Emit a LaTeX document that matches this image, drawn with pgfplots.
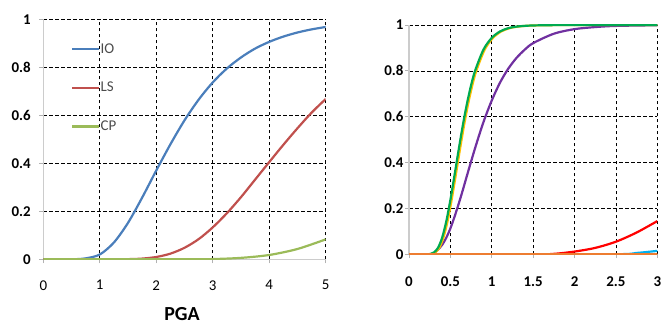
\documentclass[border=0pt]{standalone}
\usepackage{pgfplots}
\pgfplotsset{compat=1.18}
\usepackage{fontspec}
\setmainfont{Carlito}
\definecolor{ioblue}{RGB}{74,126,187}
\definecolor{lsred}{RGB}{192,80,77}
\definecolor{cpgreen}{RGB}{155,187,89}
\definecolor{rgreen}{RGB}{0,170,80}
\definecolor{ryellow}{RGB}{255,192,0}
\definecolor{rpurple}{RGB}{112,48,160}
\definecolor{rred}{RGB}{255,0,0}
\definecolor{rblue}{RGB}{0,176,240}
\definecolor{rorange}{RGB}{237,125,49}
\pgfplotsset{
  common/.style={
    scale only axis, anchor=south west,
    axis x line*=bottom, axis y line*=left,
    axis line style={draw=black!20, line width=1.2bp},
    grid=major,
    grid style={black, line width=0.7bp, dash pattern=on 3.5bp off 2.5bp},
    tick align=outside, major tick length=4bp,
    tick style={black!30, line width=0.8bp},
    /pgf/number format/assume math mode=true,
    ytick={0,0.2,0.4,0.6,0.8,1},
    yticklabels={0,0.2,0.4,0.6,0.8,1},
    ymin=0, ymax=1,
    every axis plot/.append style={line width=2.2bp, smooth},
  }
}
\begin{document}
\begin{tikzpicture}[x=1bp,y=1bp]
\path[use as bounding box] (0,0) rectangle (672,325);
\begin{axis}[common,
  at={(43.3bp,65.7bp)}, width=282.4bp, height=240bp,
  xmin=0, xmax=5, xtick={0,1,2,3,4,5},
  xticklabel style={font=\fontsize{15}{15}\selectfont, yshift=-13.5bp},
  yticklabel style={font=\bfseries\fontsize{15}{15}\selectfont, xshift=-5bp},
  xlabel={PGA},
  xlabel style={font=\bfseries\fontsize{20}{20}\selectfont, at={(axis description cs:0.491,-0.227)}, anchor=center},
  legend style={draw=none, fill=none, inner sep=0pt, at={(rel axis cs:0.098,0.902)}, anchor=north west,
    font=\fontsize{15}{15}\selectfont, text=black!70, row sep=27bp, column sep=0bp,
    nodes={inner sep=0.3bp}},
  legend cell align=left,
  legend image code/.code={\draw[#1, line width=2.2bp] (0bp,0bp) -- (27bp,0bp);},
]
\addplot[ioblue] coordinates {(0,0) (0.5,0.0001) (0.75,0.004) (1,0.02) (1.25,0.07) (1.5,0.152) (1.75,0.257) (2,0.37) (2.25,0.479) (2.5,0.579) (2.75,0.665) (3,0.737) (3.25,0.795) (3.5,0.841) (3.75,0.878) (4,0.906) (4.25,0.928) (4.5,0.945) (4.75,0.958) (5,0.968)};
\addlegendentry{IO}
\addplot[lsred] coordinates {(0,0) (1,0) (1.5,0.0007) (1.75,0.003) (2,0.0096) (2.25,0.0236) (2.5,0.048) (2.75,0.084) (3,0.133) (3.25,0.192) (3.5,0.259) (3.75,0.332) (4,0.405) (4.25,0.477) (4.5,0.546) (4.75,0.611) (5,0.668)};
\addlegendentry{LS}
\addplot[cpgreen] coordinates {(0,0) (2.5,0) (3,0.001) (3.5,0.006) (4,0.018) (4.5,0.043) (5,0.083)};
\addlegendentry{CP}
\end{axis}
\begin{axis}[common,
  at={(409bp,70.7bp)}, width=248.3bp, height=229.3bp,
  xmin=0, xmax=3, xtick={0,0.5,1,1.5,2,2.5,3},
  xticklabels={0,0.5,1,1.5,2,2.5,3},
  xticklabel style={font=\bfseries\fontsize{15}{15}\selectfont, yshift=-15bp},
  yticklabel style={font=\bfseries\fontsize{15}{15}\selectfont, xshift=2bp},
]
\addplot[rpurple] coordinates {(0,0) (0.28,0) (0.3,0.004) (0.35,0.02) (0.4,0.041) (0.45,0.072) (0.5,0.113) (0.55,0.164) (0.6,0.22) (0.65,0.28) (0.7,0.343) (0.8,0.465) (0.9,0.577) (1.0,0.671) (1.1,0.749) (1.2,0.81) (1.3,0.857) (1.4,0.893) (1.5,0.921) (1.75,0.962) (2.0,0.982) (2.25,0.991) (2.5,0.996) (3,0.999)};
\addplot[rred] coordinates {(0,0) (1.5,0) (1.75,0.002) (2,0.012) (2.25,0.028) (2.5,0.055) (2.75,0.095) (3,0.145)};
\addplot[rblue] coordinates {(0,0) (2.4,0) (2.75,0.006) (3,0.015)};
\addplot[ryellow] coordinates {(0,0) (0.24,0) (0.265,0.001) (0.315,0.008) (0.365,0.028) (0.415,0.072) (0.465,0.143) (0.515,0.237) (0.565,0.345) (0.615,0.456) (0.665,0.562) (0.715,0.657) (0.765,0.737) (0.815,0.802) (0.915,0.893) (1.015,0.944) (1.115,0.972) (1.215,0.986) (1.315,0.993) (1.515,0.998) (2,1) (3,1)};
\addplot[rgreen] coordinates {(0,0) (0.23,0) (0.25,0.001) (0.3,0.008) (0.35,0.028) (0.4,0.072) (0.45,0.143) (0.5,0.237) (0.55,0.345) (0.6,0.456) (0.65,0.562) (0.7,0.657) (0.75,0.737) (0.8,0.802) (0.9,0.893) (1.0,0.944) (1.1,0.972) (1.2,0.986) (1.3,0.993) (1.5,0.998) (2,1) (3,1)};
\addplot[rorange, smooth=false] coordinates {(0,0) (3,0)};
\end{axis}
\end{tikzpicture}
\end{document}
